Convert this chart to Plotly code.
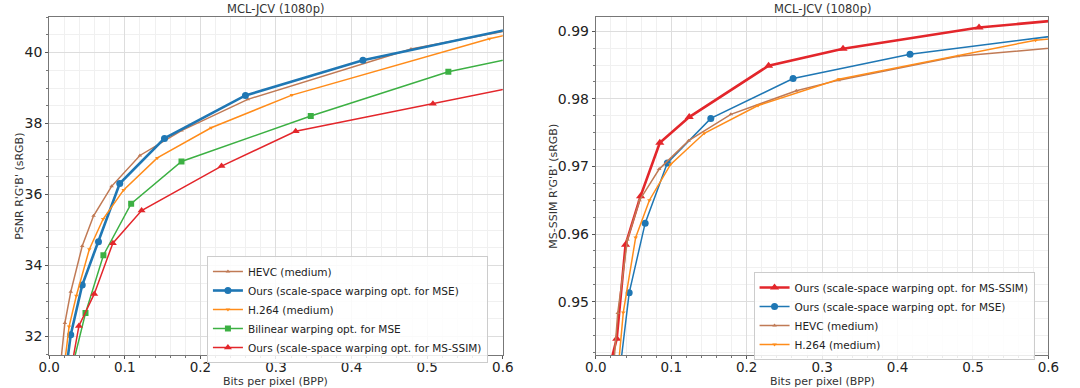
import plotly.graph_objects as go

# ---------------- Data: left panel (PSNR) ----------------
hevc_bpp_l = [0.014, 0.0207, 0.0285, 0.0437, 0.0587, 0.0825, 0.120, 0.175, 0.2627, 0.4786, 0.75]
hevc_psnr = [31.0, 32.38, 33.26, 34.55, 35.40, 36.23, 37.10, 37.80, 38.68, 40.10, 41.20]

ours_mse_bpp_l = [0.022, 0.0285, 0.0437, 0.0652, 0.0933, 0.1525, 0.2596, 0.415, 0.75]
ours_mse_psnr = [31.0, 32.05, 33.45, 34.67, 36.31, 37.58, 38.79, 39.78, 41.30]

h264_bpp_l = [0.019, 0.0263, 0.0359, 0.0531, 0.0713, 0.0985, 0.143, 0.2142, 0.321, 0.5823, 0.75]
h264_psnr = [31.0, 32.28, 33.15, 34.46, 35.31, 36.13, 37.03, 37.88, 38.80, 40.39, 41.15]

bilinear_bpp = [0.030, 0.048, 0.0717, 0.1084, 0.175, 0.346, 0.528, 0.75]
bilinear_psnr = [31.1, 32.66, 34.29, 35.74, 36.93, 38.21, 39.46, 40.44]

ours_ms_bpp_l = [0.030, 0.0393, 0.0596, 0.0842, 0.1222, 0.228, 0.326, 0.5076, 0.75]
ours_ms_psnr = [31.2, 32.30, 33.20, 34.63, 35.55, 36.80, 37.78, 38.56, 39.60]

# ---------------- Data: right panel (MS-SSIM) ----------------
ours_ms_bpp_r = [0.020, 0.0277, 0.0394, 0.0593, 0.0848, 0.1238, 0.229, 0.3277, 0.508, 0.75]
ours_ms_msssim = [0.9411, 0.9445, 0.9584, 0.9656, 0.9735, 0.9773, 0.9849, 0.9874, 0.99055, 0.9930]

ours_mse_bpp_r = [0.032, 0.0442, 0.0654, 0.0948, 0.1524, 0.2615, 0.4165, 0.75]
ours_mse_msssim = [0.9399, 0.9513, 0.9616, 0.9705, 0.9771, 0.9830, 0.9866, 0.9913]

hevc_bpp_r = [0.023, 0.029, 0.042, 0.058, 0.084, 0.123, 0.179, 0.2658, 0.322, 0.480, 0.75]
hevc_msssim = [0.9395, 0.9483, 0.9592, 0.9650, 0.9696, 0.9738, 0.9777, 0.9812, 0.98276, 0.9863, 0.9889]

h264_bpp_r = [0.029, 0.0364, 0.0528, 0.071, 0.0991, 0.1437, 0.215, 0.322, 0.583, 0.75]
h264_msssim = [0.9393, 0.9484, 0.9595, 0.9650, 0.9703, 0.9749, 0.9790, 0.9829, 0.98867, 0.9902]

x_ticks = [0.0, 0.1, 0.2, 0.3, 0.4, 0.5, 0.6]
psnr_ticks = [32, 34, 36, 38, 40]
msssim_ticks = [0.95, 0.96, 0.97, 0.98, 0.99]

# ---------------- Styles ----------------
C_BLUE = "#1f77b4"
C_ORANGE = "#ff8c1a"
C_GREEN = "#3cb043"
C_RED = "#e3262b"
C_BROWN = "#c07a55"
FONT = "DejaVu Sans"

fig = go.Figure()

def add(x, y, name, color, width, symbol, size, xa, ya, legend):
    fig.add_trace(go.Scatter(
        x=x, y=y, name=name, mode="lines+markers",
        line=dict(color=color, width=width),
        marker=dict(color=color, symbol=symbol, size=size),
        xaxis=xa, yaxis=ya, legend=legend,
    ))

# Left panel (legend order as reference)
add(hevc_bpp_l, hevc_psnr, "HEVC (medium)", C_BROWN, 1.5, "triangle-up", 4, "x", "y", "legend")
add(ours_mse_bpp_l, ours_mse_psnr, "Ours (scale-space warping opt. for MSE)", C_BLUE, 2.6, "circle", 7, "x", "y", "legend")
add(h264_bpp_l, h264_psnr, "H.264 (medium)", C_ORANGE, 1.5, "triangle-down", 4, "x", "y", "legend")
add(bilinear_bpp, bilinear_psnr, "Bilinear warping opt. for MSE", C_GREEN, 1.5, "square", 6, "x", "y", "legend")
add(ours_ms_bpp_l, ours_ms_psnr, "Ours (scale-space warping opt. for MS-SSIM)", C_RED, 1.5, "triangle-up", 7, "x", "y", "legend")

# Right panel
add(ours_ms_bpp_r, ours_ms_msssim, "Ours (scale-space warping opt. for MS-SSIM)", C_RED, 2.6, "triangle-up", 8, "x2", "y2", "legend2")
add(ours_mse_bpp_r, ours_mse_msssim, "Ours (scale-space warping opt. for MSE)", C_BLUE, 1.5, "circle", 7, "x2", "y2", "legend2")
add(hevc_bpp_r, hevc_msssim, "HEVC (medium)", C_BROWN, 1.5, "triangle-up", 4, "x2", "y2", "legend2")
add(h264_bpp_r, h264_msssim, "H.264 (medium)", C_ORANGE, 1.5, "triangle-down", 4, "x2", "y2", "legend2")

W, H = 1080, 388
top_px, bot_px = 17, 355
ydom = [1 - bot_px / H, 1 - top_px / H]
xdom1 = [39 / W, 502 / W]
xdom2 = [597 / W, 1059 / W]

def xaxis(domain, anchor):
    return dict(
        domain=domain, anchor=anchor, range=[0, 0.6],
        tickvals=x_ticks, ticktext=[f"{v:.1f}" for v in x_ticks],
        tickfont=dict(family=FONT, size=13.5, color="#222"),
        ticklabelstandoff=-3,
        showgrid=True, gridcolor="#dddddd", gridwidth=1,
        showline=True, linecolor="#777", linewidth=1, mirror=True,
        ticks="outside", ticklen=3, tickcolor="#555",
        zeroline=False,
        minor=dict(dtick=0.02, tick0=0, showgrid=True, gridcolor="#f0f0f0",
                   ticks="outside", ticklen=2, tickcolor="#777"),
    )

def yaxis(domain, anchor, rng, ticks, fmt, mdt):
    return dict(
        domain=domain, anchor=anchor, range=rng,
        tickvals=ticks, ticktext=[fmt.format(v) for v in ticks],
        tickfont=dict(family=FONT, size=14, color="#222"),
        showgrid=True, gridcolor="#dddddd", gridwidth=1,
        showline=True, linecolor="#777", linewidth=1, mirror=True,
        ticks="outside", ticklen=3, tickcolor="#555",
        zeroline=False,
        minor=dict(dtick=mdt, tick0=ticks[0], showgrid=True, gridcolor="#f0f0f0",
                   ticks="outside", ticklen=2, tickcolor="#777"),
    )

legend_style = dict(
    xanchor="left", yanchor="top",
    bgcolor="rgba(255,255,255,0.85)", bordercolor="#cccccc", borderwidth=1,
    font=dict(family=FONT, size=10.5, color="#222"),
    traceorder="normal", tracegroupgap=0,
)

fig.update_layout(
    width=W, height=H,
    margin=dict(l=0, r=0, t=0, b=0),
    paper_bgcolor="white", plot_bgcolor="white",
    font=dict(family=FONT, color="#222"),
    xaxis=xaxis(xdom1, "y"),
    yaxis=yaxis(ydom, "x", [31.48, 41.0], psnr_ticks, "{:d}", 0.5),
    xaxis2=xaxis(xdom2, "y2"),
    yaxis2=yaxis(ydom, "x2", [0.9421, 0.9921], msssim_ticks, "{:.2f}", 0.0025),
    legend=dict(x=200 / W, y=1 - 256 / H, **legend_style),
    legend2=dict(x=758 / W, y=1 - 272 / H, **legend_style),
    showlegend=True,
)

def ann(text, x, y, size, angle=0):
    fig.add_annotation(text=text, x=x / W, y=1 - y / H, xref="paper", yref="paper",
                       showarrow=False, textangle=angle,
                       font=dict(family=FONT, size=size, color="#333"),
                       xanchor="center", yanchor="middle")

ann("MCL-JCV (1080p)", 270.5, 9, 11.5)
ann("MCL-JCV (1080p)", 828, 9, 11.5)
ann("Bits per pixel (BPP)", 270.5, 381.5, 11)
ann("Bits per pixel (BPP)", 828, 381.5, 11)
ann("PSNR R'G'B' (sRGB)", 8, 186, 11, -90)
ann("MS-SSIM R'G'B' (sRGB)", 553, 186, 11, -90)

fig.write_html(
    "out.html",
    config={"displayModeBar": False},
    post_script="document.body.style.margin='0';document.body.style.overflow='hidden';",
)
